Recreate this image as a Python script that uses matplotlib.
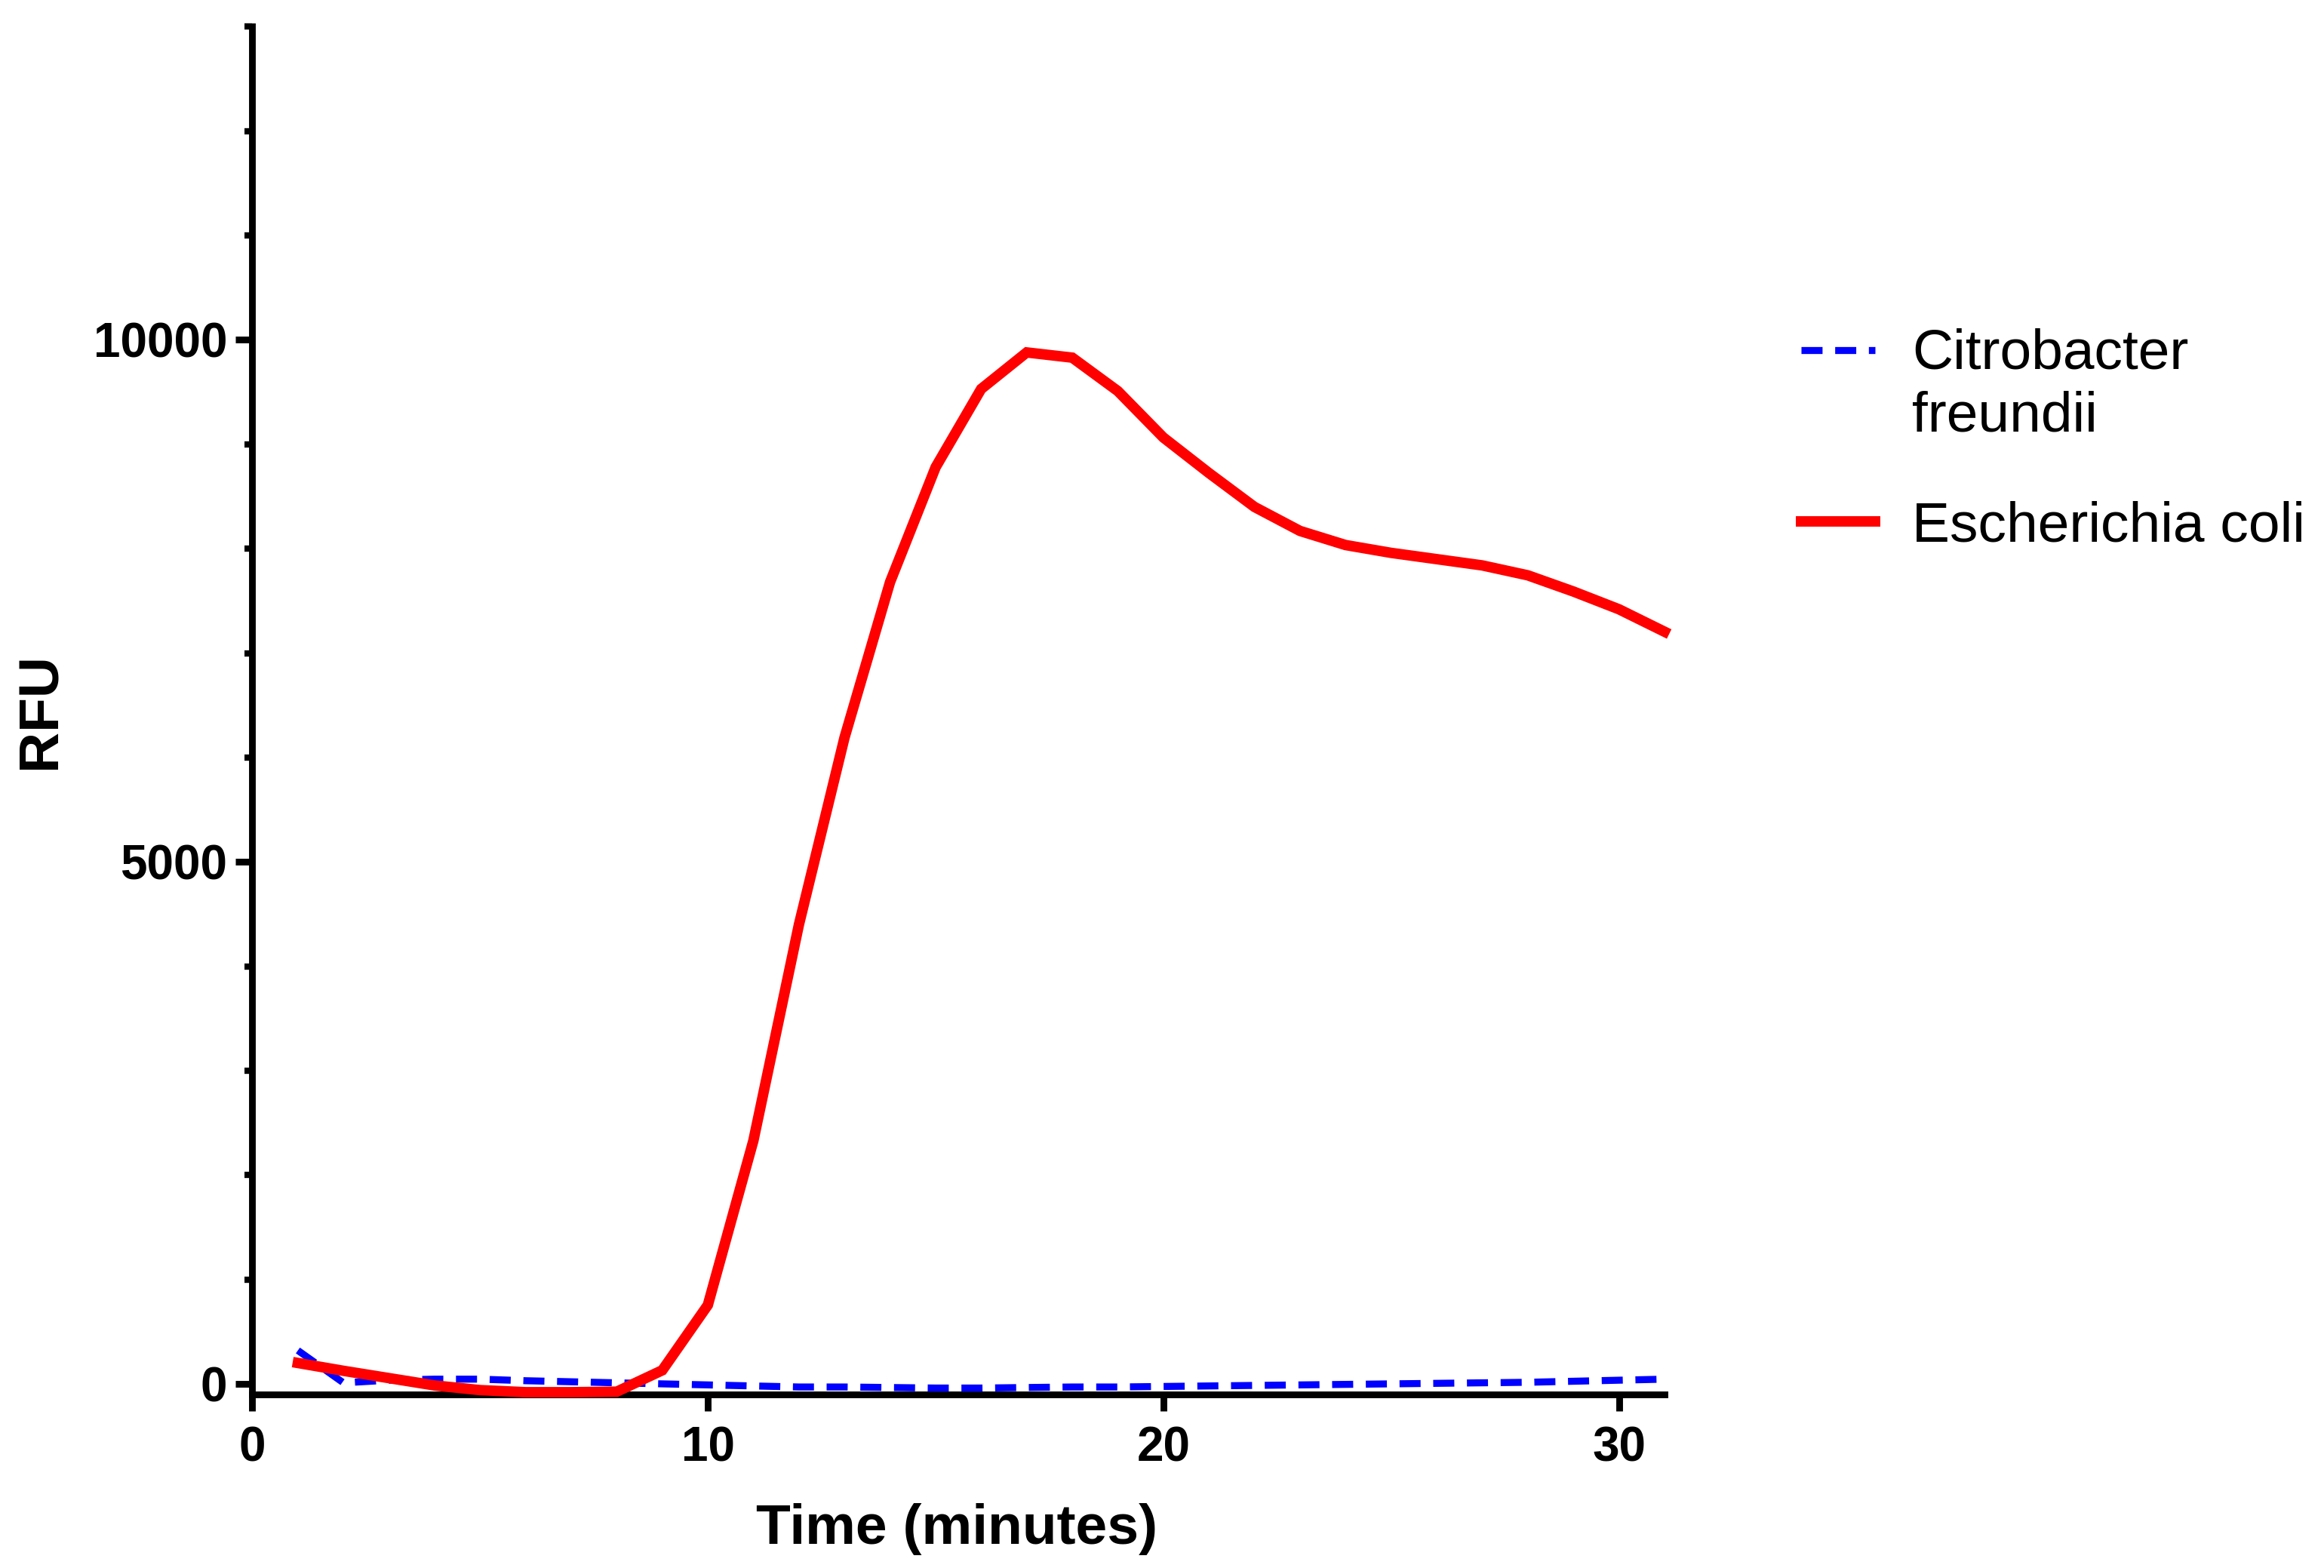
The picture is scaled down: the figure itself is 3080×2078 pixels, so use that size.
import matplotlib
matplotlib.use("Agg")
import numpy as np
import matplotlib.pyplot as plt
from matplotlib.ticker import FixedLocator, MultipleLocator, NullFormatter
from matplotlib.legend_handler import HandlerLine2D

# ---------------- data ----------------
time_min = list(range(1, 32))
e_coli = [200, 125, 55, -15, -60, -80, -80, -75, 130, 755,
          2330, 4400, 6190, 7680, 8780, 9530, 9880, 9830, 9510, 9065,
          8725, 8400, 8170, 8035, 7960, 7900, 7840, 7745, 7590, 7420, 7205]
c_freundii = [320, 10, 35, 45, 45, 30, 20, 10, 0, -10,
              -20, -30, -30, -35, -40, -40, -35, -30, -30, -25,
              -20, -15, -10, -5, 0, 5, 10, 15, 25, 35, 45]
label_citro = "Citrobacter\nfreundii"
label_ecoli = "Escherichia coli"
x_ticks = [0, 10, 20, 30]
y_ticks = [0, 5000, 10000]
y_tick_labels = ["0", "5000", "10000"]
x_label = "Time (minutes)"
y_label = "RFU"

plt.rcParams['font.family'] = ['Liberation Sans', 'DejaVu Sans']


class ShiftedLineHandler(HandlerLine2D):
    def __init__(self, yshift=0.0, **kw):
        super().__init__(**kw)
        self.yshift = yshift

    def create_artists(self, legend, orig_handle, xdescent, ydescent,
                       width, height, fontsize, trans):
        artists = super().create_artists(legend, orig_handle, xdescent, ydescent,
                                         width, height, fontsize, trans)
        for a in artists:
            if hasattr(a, "get_ydata"):
                a.set_ydata(np.asarray(a.get_ydata(), dtype=float) + self.yshift)
        return artists


fig = plt.figure(figsize=(15.4, 10.39), dpi=200)
ax = fig.add_axes([0.10857, 0.11078, 0.60763, 0.87218])

line_c, = ax.plot(time_min, c_freundii, color="#0000FF", lw=3.35,
                  dashes=(3.0, 1.8), zorder=2.8, clip_on=False,
                  label=label_citro, solid_joinstyle="miter")
line_e, = ax.plot(time_min, e_coli, color="#FF0000", lw=5.0,
                  zorder=3, clip_on=False, label=label_ecoli,
                  solid_joinstyle="miter")

ax.set_xlim(0, 31)
ax.set_ylim(-100, 13000)

for s in ["top", "right"]:
    ax.spines[s].set_visible(False)
for s in ["left", "bottom"]:
    ax.spines[s].set_linewidth(3.2)
    ax.spines[s].set_capstyle("projecting")

ax.xaxis.set_major_locator(FixedLocator(x_ticks))
ax.yaxis.set_major_locator(FixedLocator(y_ticks))
ax.set_yticklabels(y_tick_labels)
ax.yaxis.set_minor_locator(MultipleLocator(1000))
ax.yaxis.set_minor_formatter(NullFormatter())

ax.tick_params(axis="both", which="major", direction="out", length=7.9,
               width=3.2, labelsize=23, pad=4)
ax.tick_params(axis="x", which="major", pad=7)
ax.tick_params(axis="y", which="minor", direction="out", length=3.6, width=3.0)
for lab in ax.get_xticklabels() + ax.get_yticklabels():
    lab.set_fontweight("bold")

ax.set_xlabel(x_label, fontsize=27, fontweight="bold")
ax.set_ylabel(y_label, fontsize=27, fontweight="bold")
ax.xaxis.set_label_coords(0.4987, -0.0984)
ax.yaxis.set_label_coords(-0.150, 0.50)
ax.xaxis.label.set_verticalalignment("center")
ax.yaxis.label.set_verticalalignment("center")

leg = ax.legend(handles=[line_c, line_e], labels=[label_citro, label_ecoli],
                handler_map={line_c: ShiftedLineHandler(yshift=16.75)},
                loc="upper left", bbox_to_anchor=(0.775, 0.7911),
                bbox_transform=fig.transFigure, frameon=False,
                fontsize=27, handlelength=1.31, handletextpad=0.65,
                labelspacing=1.03, borderpad=0, borderaxespad=0)
for t in leg.get_texts():
    t.set_linespacing(1.26)

fig.savefig("out.png", dpi=200)
